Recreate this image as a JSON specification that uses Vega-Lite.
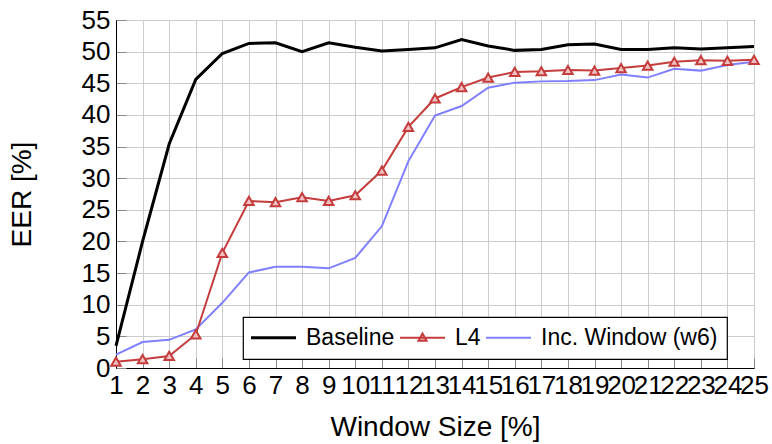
{
  "$schema": "https://vega.github.io/schema/vega-lite/v6.json",
  "autosize": "none",
  "width": 638,
  "height": 348,
  "padding": {"left": 116, "top": 20, "right": 18, "bottom": 76},
  "background": "white",
  "config": {
    "font": "Liberation Sans",
    "view": {"stroke": "black", "strokeWidth": 1},
    "axis": {
      "labelFont": "Liberation Sans",
      "titleFont": "Liberation Sans",
      "labelFontSize": 26,
      "titleFontSize": 28,
      "labelColor": "black",
      "titleColor": "black",
      "titleFontWeight": "normal",
      "gridColor": "#cccccc",
      "gridWidth": 1,
      "domainColor": "black",
      "tickColor": "#888888"
    },
    "legend": {
      "labelFont": "Liberation Sans",
      "labelFontSize": 23,
      "labelColor": "black",
      "labelLimit": 400
    }
  },
  "datasets": {
    "eer": [
      {"w": 1, "series": "Baseline", "eer": 3.5},
      {"w": 2, "series": "Baseline", "eer": 20.0},
      {"w": 3, "series": "Baseline", "eer": 35.4},
      {"w": 4, "series": "Baseline", "eer": 45.6},
      {"w": 5, "series": "Baseline", "eer": 49.7},
      {"w": 6, "series": "Baseline", "eer": 51.3},
      {"w": 7, "series": "Baseline", "eer": 51.4},
      {"w": 8, "series": "Baseline", "eer": 50.0},
      {"w": 9, "series": "Baseline", "eer": 51.4},
      {"w": 10, "series": "Baseline", "eer": 50.7},
      {"w": 11, "series": "Baseline", "eer": 50.1},
      {"w": 12, "series": "Baseline", "eer": 50.35},
      {"w": 13, "series": "Baseline", "eer": 50.6},
      {"w": 14, "series": "Baseline", "eer": 51.9},
      {"w": 15, "series": "Baseline", "eer": 50.9},
      {"w": 16, "series": "Baseline", "eer": 50.2},
      {"w": 17, "series": "Baseline", "eer": 50.35},
      {"w": 18, "series": "Baseline", "eer": 51.1},
      {"w": 19, "series": "Baseline", "eer": 51.2},
      {"w": 20, "series": "Baseline", "eer": 50.35},
      {"w": 21, "series": "Baseline", "eer": 50.35},
      {"w": 22, "series": "Baseline", "eer": 50.6},
      {"w": 23, "series": "Baseline", "eer": 50.4},
      {"w": 24, "series": "Baseline", "eer": 50.6},
      {"w": 25, "series": "Baseline", "eer": 50.8},
      {"w": 1, "series": "L4", "eer": 1.0},
      {"w": 2, "series": "L4", "eer": 1.4},
      {"w": 3, "series": "L4", "eer": 1.9},
      {"w": 4, "series": "L4", "eer": 5.3},
      {"w": 5, "series": "L4", "eer": 18.2},
      {"w": 6, "series": "L4", "eer": 26.4},
      {"w": 7, "series": "L4", "eer": 26.2},
      {"w": 8, "series": "L4", "eer": 27.0},
      {"w": 9, "series": "L4", "eer": 26.4},
      {"w": 10, "series": "L4", "eer": 27.3},
      {"w": 11, "series": "L4", "eer": 31.2},
      {"w": 12, "series": "L4", "eer": 38.1},
      {"w": 13, "series": "L4", "eer": 42.6},
      {"w": 14, "series": "L4", "eer": 44.4},
      {"w": 15, "series": "L4", "eer": 45.9},
      {"w": 16, "series": "L4", "eer": 46.8},
      {"w": 17, "series": "L4", "eer": 46.9},
      {"w": 18, "series": "L4", "eer": 47.1},
      {"w": 19, "series": "L4", "eer": 47.0},
      {"w": 20, "series": "L4", "eer": 47.4},
      {"w": 21, "series": "L4", "eer": 47.8},
      {"w": 22, "series": "L4", "eer": 48.4},
      {"w": 23, "series": "L4", "eer": 48.65},
      {"w": 24, "series": "L4", "eer": 48.55},
      {"w": 25, "series": "L4", "eer": 48.7},
      {"w": 1, "series": "Inc. Window (w6)", "eer": 2.1},
      {"w": 2, "series": "Inc. Window (w6)", "eer": 4.1},
      {"w": 3, "series": "Inc. Window (w6)", "eer": 4.45},
      {"w": 4, "series": "Inc. Window (w6)", "eer": 6.1},
      {"w": 5, "series": "Inc. Window (w6)", "eer": 10.3},
      {"w": 6, "series": "Inc. Window (w6)", "eer": 15.1},
      {"w": 7, "series": "Inc. Window (w6)", "eer": 16.0},
      {"w": 8, "series": "Inc. Window (w6)", "eer": 16.0},
      {"w": 9, "series": "Inc. Window (w6)", "eer": 15.75},
      {"w": 10, "series": "Inc. Window (w6)", "eer": 17.4},
      {"w": 11, "series": "Inc. Window (w6)", "eer": 22.4},
      {"w": 12, "series": "Inc. Window (w6)", "eer": 32.7},
      {"w": 13, "series": "Inc. Window (w6)", "eer": 39.9},
      {"w": 14, "series": "Inc. Window (w6)", "eer": 41.4},
      {"w": 15, "series": "Inc. Window (w6)", "eer": 44.3},
      {"w": 16, "series": "Inc. Window (w6)", "eer": 45.1},
      {"w": 17, "series": "Inc. Window (w6)", "eer": 45.3},
      {"w": 18, "series": "Inc. Window (w6)", "eer": 45.35},
      {"w": 19, "series": "Inc. Window (w6)", "eer": 45.5},
      {"w": 20, "series": "Inc. Window (w6)", "eer": 46.4},
      {"w": 21, "series": "Inc. Window (w6)", "eer": 45.9},
      {"w": 22, "series": "Inc. Window (w6)", "eer": 47.3},
      {"w": 23, "series": "Inc. Window (w6)", "eer": 47.0},
      {"w": 24, "series": "Inc. Window (w6)", "eer": 47.9},
      {"w": 25, "series": "Inc. Window (w6)", "eer": 48.4}
    ]
  },
  "data": {"name": "eer"},
  "encoding": {
    "x": {
      "field": "w", "type": "quantitative",
      "scale": {"domain": [1, 25], "nice": false, "zero": false},
      "axis": {
        "title": "Window Size [%]",
        "values": [1,2,3,4,5,6,7,8,9,10,11,12,13,14,15,16,17,18,19,20,21,22,23,24,25],
        "labelOverlap": false, "labelFlush": false,
        "tickSize": -10, "labelPadding": 14, "titlePadding": 15
      }
    },
    "y": {
      "field": "eer", "type": "quantitative",
      "scale": {"domain": [0, 55], "nice": false},
      "axis": {
        "title": "EER [%]",
        "values": [0,5,10,15,20,25,30,35,40,45,50,55],
        "labelOverlap": false, "labelFlush": false,
        "tickSize": -10, "labelPadding": 16, "titlePadding": 45
      }
    },
    "color": {
      "field": "series", "type": "nominal",
      "scale": {"domain": ["Baseline", "L4", "Inc. Window (w6)"], "range": ["black", "#c43c3c", "#7f7fff"]},
      "legend": {
        "title": null,
        "orient": "none",
        "legendX": 127,
        "legendY": 297,
        "direction": "horizontal",
        "symbolType": "stroke",
        "symbolSize": 2025,
        "symbolStrokeWidth": 2,
        "symbolOffset": 10,
        "labelOffset": 21,
        "columnPadding": 1,
        "padding": 9,
        "strokeColor": "black",
        "fillColor": "white",
        "encode": {
          "legend": {"update": {"strokeWidth": {"value": 1.2}}},
          "symbols": {
            "update": {
              "shape": {"signal": "datum.value === 'L4' ? 'M-1,0H1M0,-0.19L0.18,0.13L-0.18,0.13Z' : 'stroke'"},
              "fill": {"signal": "datum.value === 'L4' ? '#f0c0c0' : 'transparent'"},
              "strokeWidth": {"signal": "datum.value === 'Baseline' ? 3 : 2"},
              "opacity": {"value": 1}
            }
          }
        }
      }
    }
  },
  "layer": [
    {
      "transform": [{"filter": "datum.series === 'Inc. Window (w6)'"}],
      "mark": {"type": "line", "strokeWidth": 2}
    },
    {
      "transform": [{"filter": "datum.series === 'L4'"}],
      "mark": {"type": "line", "strokeWidth": 2}
    },
    {
      "transform": [{"filter": "datum.series === 'L4'"}],
      "mark": {"type": "point", "shape": "triangle-up", "size": 90, "filled": false, "fill": "#f0c0c0", "fillOpacity": 1, "strokeWidth": 2, "opacity": 1}
    },
    {
      "transform": [{"filter": "datum.series === 'Baseline'"}],
      "mark": {"type": "line", "strokeWidth": 3}
    }
  ]
}
